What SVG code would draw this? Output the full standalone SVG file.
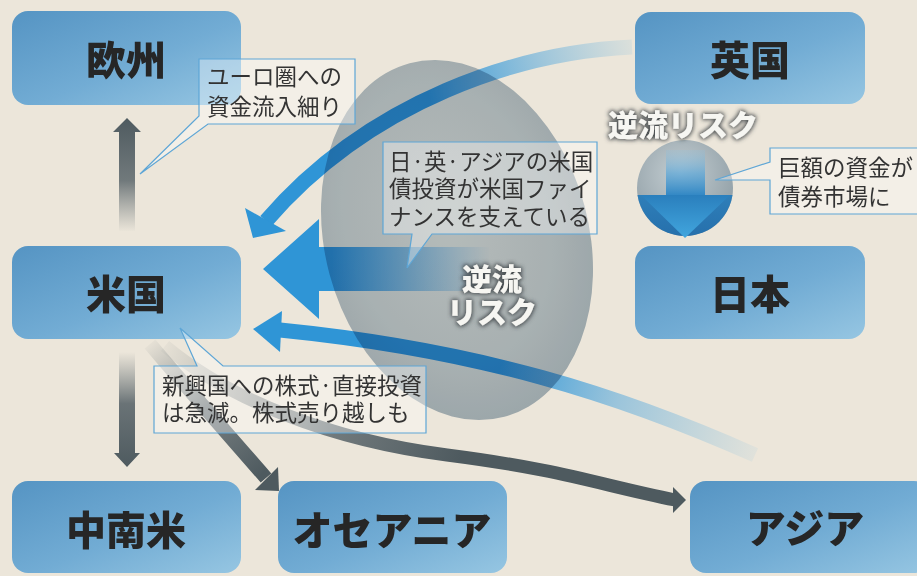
<svg xmlns="http://www.w3.org/2000/svg" width="917" height="576" viewBox="0 0 917 576">
<style>
.box{fill:url(#nodeGrad);}
.lbl{font-family:"Noto Sans CJK JP","Noto Sans",sans-serif;font-weight:900;font-size:40px;fill:#262626;text-anchor:middle;}
.co{fill:#ffffff;fill-opacity:0.36;stroke:#5ea6d6;stroke-width:1.2;}
.ct{font-family:"Noto Sans CJK JP","Noto Sans",sans-serif;font-weight:400;font-size:22.5px;fill:#333333;}
.risk{font-family:"Noto Sans CJK JP","Noto Sans",sans-serif;font-weight:900;font-size:30px;fill:#f6f6f2;text-anchor:middle;}
</style>
<defs>
<linearGradient id="nodeGrad" x1="0" y1="0" x2="1" y2="1">
<stop offset="0" stop-color="#5594c3"/>
<stop offset="0.55" stop-color="#72acd4"/>
<stop offset="1" stop-color="#96c6e2"/>
</linearGradient>
<linearGradient id="gUp" gradientUnits="userSpaceOnUse" x1="0" y1="118" x2="0" y2="232">
<stop offset="0" stop-color="#4e5a5f"/>
<stop offset="0.55" stop-color="#5b666b" stop-opacity="0.85"/>
<stop offset="1" stop-color="#6b7579" stop-opacity="0"/>
</linearGradient>
<linearGradient id="gDown" gradientUnits="userSpaceOnUse" x1="0" y1="352" x2="0" y2="467">
<stop offset="0" stop-color="#6b7579" stop-opacity="0"/>
<stop offset="0.45" stop-color="#5b666b" stop-opacity="0.9"/>
<stop offset="1" stop-color="#4e5a5f"/>
</linearGradient>
<linearGradient id="gOce" gradientUnits="userSpaceOnUse" x1="150" y1="344" x2="262" y2="474">
<stop offset="0" stop-color="#6b7579" stop-opacity="0.05"/>
<stop offset="0.5" stop-color="#5b666b" stop-opacity="0.8"/>
<stop offset="1" stop-color="#4e5a5f"/>
</linearGradient>
<linearGradient id="gAsia" gradientUnits="userSpaceOnUse" x1="165" y1="346" x2="460" y2="458">
<stop offset="0" stop-color="#6b7579" stop-opacity="0.05"/>
<stop offset="0.6" stop-color="#5b666b" stop-opacity="0.85"/>
<stop offset="1" stop-color="#4e5a5f"/>
</linearGradient>
<linearGradient id="bTop" gradientUnits="userSpaceOnUse" x1="632" y1="48" x2="430" y2="100">
<stop offset="0" stop-color="#5aaee0" stop-opacity="0.12"/>
<stop offset="0.45" stop-color="#4aa3dc" stop-opacity="0.5"/>
<stop offset="1" stop-color="#2f95d6"/>
</linearGradient>
<linearGradient id="bBig" gradientUnits="userSpaceOnUse" x1="263" y1="0" x2="490" y2="0">
<stop offset="0" stop-color="#2f95d6"/>
<stop offset="0.3" stop-color="#2f95d6"/>
<stop offset="1" stop-color="#2f95d6" stop-opacity="0"/>
</linearGradient>
<linearGradient id="bLow" gradientUnits="userSpaceOnUse" x1="755" y1="455" x2="282" y2="330">
<stop offset="0" stop-color="#5aaee0" stop-opacity="0.08"/>
<stop offset="0.3" stop-color="#4aa3dc" stop-opacity="0.5"/>
<stop offset="0.55" stop-color="#2f95d6"/>
<stop offset="1" stop-color="#2f95d6"/>
</linearGradient>
<radialGradient id="ellGrad" cx="0.48" cy="0.45" r="0.55">
<stop offset="0" stop-color="#c4d0da"/>
<stop offset="0.7" stop-color="#b6c4d0"/>
<stop offset="1" stop-color="#a9b9c7"/>
</radialGradient>
<radialGradient id="pinGray" cx="0.45" cy="0.35" r="0.6">
<stop offset="0" stop-color="#c4ced2"/>
<stop offset="1" stop-color="#94a2a9"/>
</radialGradient>
<linearGradient id="pinLow" x1="0" y1="0" x2="0" y2="1">
<stop offset="0" stop-color="#3a92ca"/>
<stop offset="1" stop-color="#2670ac"/>
</linearGradient>
<linearGradient id="pinShaft" gradientUnits="userSpaceOnUse" x1="0" y1="150" x2="0" y2="196">
<stop offset="0" stop-color="#8cc2e2" stop-opacity="0.2"/>
<stop offset="0.5" stop-color="#5aa6d8" stop-opacity="0.7"/>
<stop offset="1" stop-color="#2f86c4"/>
</linearGradient>
<linearGradient id="pinHead" gradientUnits="userSpaceOnUse" x1="0" y1="195" x2="0" y2="238">
<stop offset="0" stop-color="#2a7fbd"/>
<stop offset="1" stop-color="#42a6de"/>
</linearGradient>
<clipPath id="lowHalf"><rect x="620" y="195" width="140" height="60"/></clipPath>
<filter id="glow" x="-20%" y="-40%" width="140%" height="180%">
<feMorphology in="SourceAlpha" operator="dilate" radius="1.3" result="d"/>
<feGaussianBlur in="d" stdDeviation="2.2" result="b"/>
<feFlood flood-color="#3a4044" flood-opacity="0.9"/>
<feComposite in2="b" operator="in" result="s"/>
<feMerge><feMergeNode in="s"/><feMergeNode in="SourceGraphic"/></feMerge>
</filter>
</defs>

<rect width="917" height="576" fill="#ece6da"/>

<g id="node-europe"><rect class="box" x="12" y="11" width="229" height="94" rx="16"/><text class="lbl" x="126" y="75">欧州</text></g>
<g id="node-uk"><rect class="box" x="635" y="12" width="230" height="92" rx="16"/><text class="lbl" x="750" y="75">英国</text></g>
<g id="node-us"><rect class="box" x="12" y="246" width="229" height="93" rx="16"/><text class="lbl" x="126" y="309">米国</text></g>
<g id="node-japan"><rect class="box" x="635" y="246" width="230" height="93" rx="16"/><text class="lbl" x="750" y="309">日本</text></g>
<g id="node-latam"><rect class="box" x="12" y="481" width="229" height="92" rx="16"/><text class="lbl" x="126" y="545">中南米</text></g>
<g id="node-oceania"><rect class="box" x="278" y="481" width="229" height="92" rx="16"/><text class="lbl" x="392" y="545">オセアニア</text></g>
<g id="node-asia"><rect class="box" x="690" y="481" width="240" height="92" rx="16"/><text class="lbl" x="805" y="543">アジア</text></g>

<g id="connectors">
<polygon points="119,231 119,132 113,132 127,118 141,132 135,132 135,231" fill="url(#gUp)"/>
<polygon points="119,352 119,453 114,453 127,467 140,453 135,453 135,352" fill="url(#gDown)"/>
<path d="M150,344 C180,380 220,425 266,478" fill="none" stroke="url(#gOce)" stroke-width="14"/>
<polygon points="255,490 278,467 279,491" fill="#4e5a5f"/>
<path d="M165,346 C230,400 330,440 447,455 S600,485 675,500" fill="none" stroke="url(#gAsia)" stroke-width="13"/>
<polygon points="673,487 686,500 673,513" fill="#4e5a5f"/>

<path d="M632,47 C520,52 370,100 266,221" fill="none" stroke="url(#bTop)" stroke-width="15"/>
<polygon points="245,208 286,231 253,238" fill="#2f95d6"/>
<polygon points="263,269 319,219 319,247 490,247 490,291 319,291 319,319" fill="url(#bBig)"/>
<path d="M755,455 C620,395 480,350 280,330" fill="none" stroke="url(#bLow)" stroke-width="15"/>
<polygon points="253,329 282,311 280,352" fill="#2f95d6"/>
</g>

<ellipse id="risk-zone" cx="457" cy="240" rx="132" ry="183" transform="rotate(-15 457 240)" fill="url(#ellGrad)" style="mix-blend-mode:multiply"/>

<g id="uk-japan-flow">
<circle cx="685" cy="188" r="48" fill="url(#pinGray)"/>
<circle cx="685" cy="188" r="48" fill="url(#pinLow)" clip-path="url(#lowHalf)"/>
<rect x="666" y="150" width="39" height="46" fill="url(#pinShaft)"/>
<polygon points="641,195 730,195 685,238" fill="url(#pinHead)"/>
</g>

<g id="callout-euro">
<path class="co" d="M199,59 H355 V124 H208 L140,174 L199,116 Z"/>
<text class="ct" x="207" y="85">ユーロ圏への</text>
<text class="ct" x="207" y="115">資金流入細り</text>
</g>
<g id="callout-us-finance">
<path class="co" d="M383,142 H597 V234 H432 L407,268 L412,234 H383 Z"/>
<text class="ct" x="389" y="170">日·英·アジアの米国</text>
<text class="ct" x="389" y="197">債投資が米国ファイ</text>
<text class="ct" x="389" y="225">ナンスを支えている</text>
</g>
<g id="callout-bonds">
<path class="co" d="M770,148 H930 V214 H770 V180 L715,180 L770,162 Z"/>
<text class="ct" x="778" y="176">巨額の資金が</text>
<text class="ct" x="778" y="205">債券市場に</text>
</g>
<g id="callout-emerging">
<path class="co" d="M154,366 H197 L180,328 L223,366 H426 V433 H154 Z"/>
<text class="ct" x="162" y="394">新興国への株式·直接投資</text>
<text class="ct" x="162" y="421">は急減。株式売り越しも</text>
</g>

<g id="risk-labels" filter="url(#glow)">
<text class="risk" x="683" y="136">逆流リスク</text>
<text class="risk" x="492" y="290">逆流</text>
<text class="risk" x="492" y="323">リスク</text>
</g>
</svg>
